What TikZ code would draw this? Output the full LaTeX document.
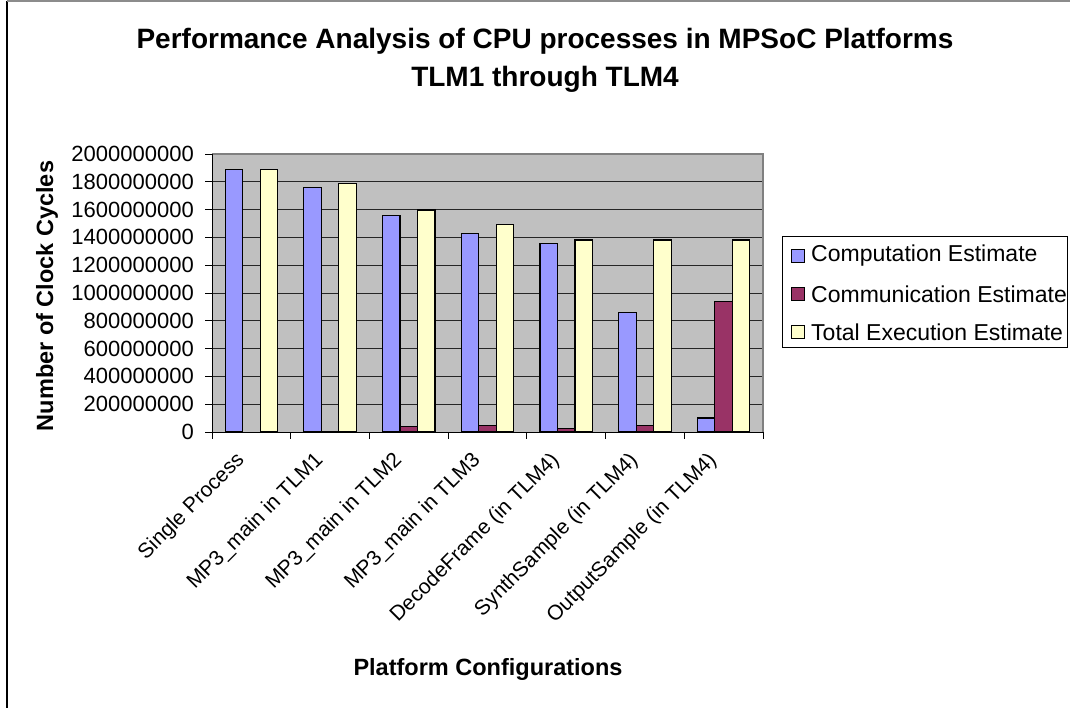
\documentclass[tikz,border=0pt]{standalone}
\usepackage{fontspec}
\setmainfont{Liberation Sans}
\definecolor{compblue}{HTML}{9999FF}
\definecolor{commpurple}{HTML}{993366}
\definecolor{totyellow}{HTML}{FFFFCC}
\definecolor{plotgray}{HTML}{C0C0C0}
\definecolor{edgegray}{HTML}{808080}
\begin{document}
\begin{tikzpicture}[x=1pt,y=-1pt,
  bar/.style={draw=black,line width=1.1pt},
  gridline/.style={draw=black!85,line width=0.8pt},
  tick/.style={draw=black,line width=0.8pt},
  ticklabel/.style={anchor=east,inner sep=0pt,font=\fontsize{22}{22}\selectfont},
  catlabel/.style={anchor=north east,inner sep=0pt,rotate=45,font=\fontsize{21}{21}\selectfont},
  titletext/.style={anchor=base,inner sep=0pt,font=\bfseries\fontsize{28}{28}\selectfont},
  axistitle/.style={inner sep=0pt,font=\bfseries\fontsize{23.5}{23.5}\selectfont},
  legendtext/.style={anchor=west,inner sep=0pt,font=\fontsize{23}{23}\selectfont},
  legendkey/.style={draw=black,line width=1pt,minimum width=13pt,minimum height=13pt,inner sep=0pt}]
\useasboundingbox (0,0) rectangle (1070,708);
\fill[white] (0,0) rectangle (1070,708);
% outer chart frame
\draw[black,line width=1.2pt] (7,708) -- (7,1);
\draw[black!45,line width=1.2pt] (7,1) -- (1070,1);

% title, two lines
\node[titletext] (title1) at (545,49) {Performance Analysis of CPU processes in MPSoC Platforms};
\node[titletext] (title2) at (545,87) {TLM1 through TLM4};

% plot area: (212,154) to (763,432); 2e9 over 278 units
\def\pL{212}\def\pR{763}\def\pT{154}\def\pB{432}
\fill[plotgray] (\pL,\pT) rectangle (\pR,\pB);
\foreach \k in {1,...,9}{
  \draw[gridline] (\pL,{\pB-27.8*\k}) -- (\pR,{\pB-27.8*\k});
}
\draw[edgegray,line width=1.2pt] (\pL,\pT) -- (\pR,\pT) -- (\pR,\pB);

% y axis, ticks and labels
\draw[tick] (\pL,\pT) -- (\pL,\pB);
\foreach \k/\lab in {0/0,1/200000000,2/400000000,3/600000000,4/800000000,5/1000000000,6/1200000000,7/1400000000,8/1600000000,9/1800000000,10/2000000000}{
  \draw[tick] (205,{\pB-27.8*\k}) -- (\pL,{\pB-27.8*\k});
  \node[ticklabel] (yl\k) at (194,{\pB-27.8*\k}) {\lab};
}

% bars: computation, communication, total (values in 1e9 cycles)
\def\cw{78.714}\def\bw{17.49}
\foreach \i/\vA/\vB/\vC in {0/1.890/0/1.890, 1/1.760/0.003/1.789, 2/1.556/0.038/1.597, 3/1.429/0.050/1.494, 4/1.355/0.024/1.381, 5/0.861/0.050/1.381, 6/0.101/0.938/1.381}{
  \pgfmathsetmacro{\s}{\pL+\i*\cw+0.75*\bw}
  \draw[bar,fill=compblue] (\s,\pB) rectangle ({\s+\bw},{\pB-139*\vA});
  \ifdim\vB pt>0pt
    \draw[bar,fill=commpurple] ({\s+\bw},\pB) rectangle ({\s+2*\bw},{\pB-139*\vB});
  \fi
  \draw[bar,fill=totyellow] ({\s+2*\bw},\pB) rectangle ({\s+3*\bw},{\pB-139*\vC});
}

% x axis and category ticks
\draw[tick] (\pL,\pB) -- (\pR,\pB);
\foreach \i in {0,...,7}{
  \draw[tick] ({\pL+\i*\cw},\pB) -- ({\pL+\i*\cw},439);
}
\foreach \i/\lab in {0/Single Process,1/MP3\_main in TLM1,2/MP3\_main in TLM2,3/MP3\_main in TLM3,4/DecodeFrame (in TLM4),5/SynthSample (in TLM4),6/OutputSample (in TLM4)}{
  \node[catlabel] (xl\i) at ({\pL+(\i+0.5)*\cw-17},450) {\lab};
}

% axis titles
\node[axistitle,rotate=90] (ytitle) at (47,296) {Number of Clock Cycles};
\node[axistitle,anchor=base] (xtitle) at (488,675) {Platform Configurations};

% legend
\node[draw=black,line width=1pt,minimum width=285pt,minimum height=110pt,inner sep=0pt] (legend) at (924.5,292) {};
\node[legendkey,fill=compblue] (k1) at (797.5,256) {};
\node[legendkey,fill=commpurple] (k2) at (797.5,294) {};
\node[legendkey,fill=totyellow] (k3) at (797.5,332) {};
\node[legendtext] (t1) at (811,256) {Computation Estimate};
\node[legendtext] (t2) at (811,294) {Communication Estimate};
\node[legendtext] (t3) at (811,332) {Total Execution Estimate};
\end{tikzpicture}
\end{document}
